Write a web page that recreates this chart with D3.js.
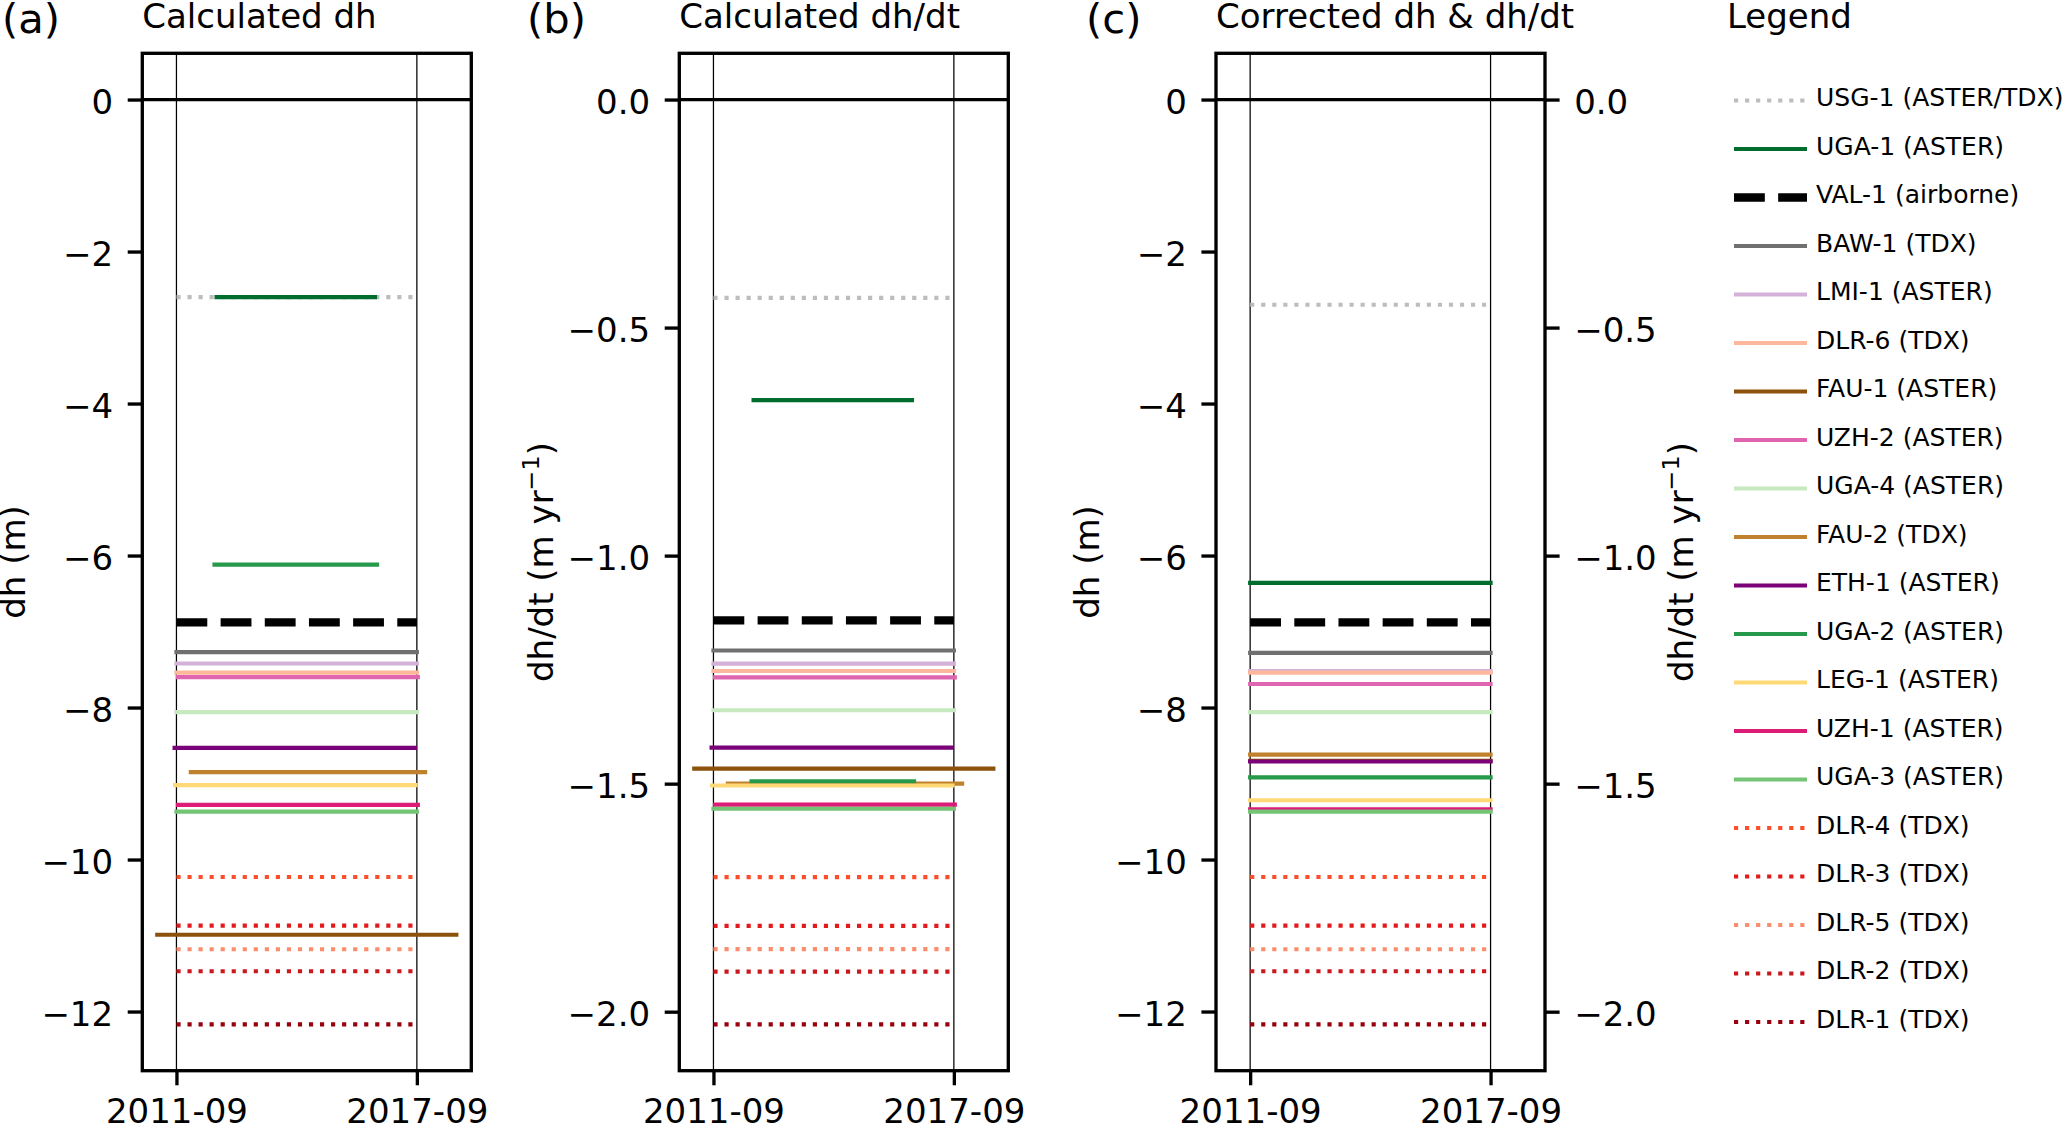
<!DOCTYPE html>
<html><head><meta charset="utf-8">
<script src="https://cdn.jsdelivr.net/npm/d3@7"></script>
<style>
body{margin:0;background:#fff;}
svg{display:block;}
text{font-family:"DejaVu Sans",sans-serif;fill:#000;}
</style>
</head><body>
<svg id="chart" width="2066" height="1127"></svg>
<script>
// ---------------- data ----------------
const labels = ["USG-1 (ASTER/TDX)","UGA-1 (ASTER)","VAL-1 (airborne)","BAW-1 (TDX)","LMI-1 (ASTER)",
  "DLR-6 (TDX)","FAU-1 (ASTER)","UZH-2 (ASTER)","UGA-4 (ASTER)","FAU-2 (TDX)","ETH-1 (ASTER)",
  "UGA-2 (ASTER)","LEG-1 (ASTER)","UZH-1 (ASTER)","UGA-3 (ASTER)","DLR-4 (TDX)","DLR-3 (TDX)",
  "DLR-5 (TDX)","DLR-2 (TDX)","DLR-1 (TDX)"];
const startDates = ["2011-09-01","2012-09-01","2011-09-01","2011-09-01","2011-09-01",
  "2011-09-01","2011-03-10","2011-09-15","2011-09-01","2012-01-10","2011-08-15",
  "2012-08-13","2011-08-20","2011-09-15","2011-09-01","2011-09-01","2011-09-01",
  "2011-09-01","2011-09-01","2011-09-01"];
const endDates = ["2017-09-01","2016-08-15","2017-09-01","2017-09-01","2017-09-01",
  "2017-09-01","2018-08-27","2017-09-10","2017-09-01","2017-11-15","2017-08-15",
  "2016-09-03","2017-08-20","2017-09-10","2017-09-01","2017-09-01","2017-09-01",
  "2017-09-01","2017-09-01","2017-09-01"];
const corrStart = "2011-09-01";
const corrEnd = "2017-09-01";
// (a) calculated dh (m)
const dhCalc = [-2.60,-2.60,-6.88,-7.27,-7.42,-7.54,-10.99,-7.60,-8.06,-8.85,-8.53,
  -6.12,-9.02,-9.28,-9.37,-10.23,-10.87,-11.18,-11.47,-12.17];
// (b) calculated dh/dt (m/yr)
const dhdtCalc = [-0.435,-0.659,-1.142,-1.208,-1.237,-1.253,-1.467,-1.267,-1.339,-1.500,-1.421,
  -1.495,-1.504,-1.546,-1.555,-1.705,-1.812,-1.863,-1.912,-2.028];
// (c) corrected dh (m)
const dhCorr = [-2.70,-6.36,-6.88,-7.28,-7.52,-7.54,-8.70,-7.69,-8.06,-8.62,-8.71,
  -8.92,-9.22,-9.34,-9.37,-10.23,-10.87,-11.18,-11.47,-12.17];
const xTickDates = ["2011-09-01","2017-09-01"];
const xTickLabels = ["2011-09","2017-09"];
const dhTicks = [0,-2,-4,-6,-8,-10,-12];
const dhdtTicks = [0,-0.5,-1.0,-1.5,-2.0];
const titles = ["Calculated dh","Calculated dh/dt","Corrected dh & dh/dt"];
const panelTags = ["(a)","(b)","(c)"];

// ---------------- styles ----------------
const colors = ["#bdbdbd","#006d2c","#000000","#707070","#d4b2d8","#fcb79c","#8c510a","#df65b0",
  "#c7e9c0","#bf812d","#7a0177","#27994a","#fed976","#dd1c77","#74c476","#fc4e2a","#e31a1c",
  "#fc8d6c","#cb181d","#99000d"];
const styles = ["dotted","solid","dashed","solid","solid","solid","solid","solid","solid","solid",
  "solid","solid","solid","solid","solid","dotted","dotted","dotted","dotted","dotted"];

const PT = 300/72;          // px per point (300 dpi)
const LW = 1*PT, LWD = 2*PT, SPINE = 0.8*PT, TICK = 3.5*PT, PAD = 3.5*PT;
const FS = 34, FSL = 25, FSTAG = 10*PT;

const parse = d3.timeParse("%Y-%m-%d");
const svg = d3.select("#chart");
svg.append("rect").attr("width",2066).attr("height",1127).attr("fill","#fff");

const panelLeft = [142.3, 679.3, 1216.0];
const panelW = 329, plotTop = 53.3, plotBottom = 1070.7;

// x domain: data extent with 5% margins
const t0 = d3.min(startDates.map(parse)), t1 = d3.max(endDates.map(parse));
const tpad = (t1 - t0) * 0.05;
const xDomain = [new Date(+t0 - tpad), new Date(+t1 + tpad)];
function padDomain(vals){
  const lo = d3.min([0, ...vals]), hi = d3.max([0, ...vals]);
  const p = (hi - lo) * 0.05;
  return [lo - p, hi + p];
}
const dhDomain = padDomain(dhCalc);
const dhdtDomain = padDomain(dhdtCalc);

function styleLine(sel, i){
  const st = styles[i];
  sel.attr("stroke", colors[i])
     .attr("stroke-width", st === "dashed" ? LWD : LW)
     .attr("stroke-linecap", st === "solid" ? "square" : "butt")
     .attr("fill","none");
  if (st === "dashed") sel.attr("stroke-dasharray", `${3.7*LWD},${1.6*LWD}`);
  if (st === "dotted") sel.attr("stroke-dasharray", `${1*LW},${1.65*LW}`);
}

function styleAxis(g){
  g.select(".domain").remove();
  g.selectAll(".tick line").attr("stroke","#000").attr("stroke-width",SPINE);
  g.selectAll(".tick text").attr("font-size",FS).attr("font-family","DejaVu Sans").attr("fill","#000");
}

function drawPanel(p, values, starts, ends, yDomain, tickVals, fmt, rightAxis){
  const L = panelLeft[p];
  const x = d3.scaleTime().domain(xDomain).range([L, L + panelW]);
  const y = d3.scaleLinear().domain(yDomain).range([plotBottom, plotTop]);
  const g = svg.append("g");

  xTickDates.forEach(d => {
    g.append("line").attr("x1", x(parse(d))).attr("x2", x(parse(d)))
      .attr("y1", plotTop).attr("y2", plotBottom).attr("stroke","#000").attr("stroke-width",0.3*PT);
  });
  g.append("line").attr("x1", L).attr("x2", L + panelW).attr("y1", y(0)).attr("y2", y(0))
    .attr("stroke","#000").attr("stroke-width",SPINE);

  values.forEach((v, i) => {
    const ln = g.append("line")
      .attr("x1", x(parse(starts[i]))).attr("x2", x(parse(ends[i])))
      .attr("y1", y(v)).attr("y2", y(v));
    styleLine(ln, i);
  });

  g.append("rect").attr("x", L).attr("y", plotTop).attr("width", panelW).attr("height", plotBottom - plotTop)
    .attr("fill","none").attr("stroke","#000").attr("stroke-width",SPINE);

  const ax = svg.append("g").attr("transform",`translate(${L},0)`)
    .call(d3.axisLeft(y).tickValues(tickVals).tickFormat(fmt)
      .tickSizeInner(TICK).tickSizeOuter(0).tickPadding(PAD));
  styleAxis(ax);
  ax.selectAll(".tick text").attr("dy","0.4em");

  const bx = svg.append("g").attr("transform",`translate(0,${plotBottom})`)
    .call(d3.axisBottom(x).tickValues(xTickDates.map(parse))
      .tickFormat((d, i) => xTickLabels[i])
      .tickSizeInner(TICK).tickSizeOuter(0).tickPadding(PAD));
  styleAxis(bx);
  bx.selectAll(".tick text").attr("dy","0.69em");

  if (rightAxis){
    const yR = d3.scaleLinear().domain(dhdtDomain).range([plotBottom, plotTop]);
    const rx = svg.append("g").attr("transform",`translate(${L + panelW},0)`)
      .call(d3.axisRight(yR).tickValues(dhdtTicks).tickFormat(d3.format(".1f"))
        .tickSizeInner(TICK).tickSizeOuter(0).tickPadding(PAD));
    styleAxis(rx);
    rx.selectAll(".tick text").attr("dy","0.4em");
  }

  svg.append("text").attr("x", L).attr("y", 28.3).attr("font-size", FS).text(titles[p]);
  return {x, y};
}

const fmtInt = d3.format("d");
const fmt1 = d3.format(".1f");
drawPanel(0, dhCalc, startDates, endDates, dhDomain, dhTicks, fmtInt, false);
drawPanel(1, dhdtCalc, startDates, endDates, dhdtDomain, dhdtTicks, fmt1, false);
drawPanel(2, dhCorr, labels.map(() => corrStart), labels.map(() => corrEnd), dhDomain, dhTicks, fmtInt, true);

const tagX = [2, 527, 1086];
panelTags.forEach((t, i) => {
  svg.append("text").attr("x", tagX[i]).attr("y", 33.3).attr("font-size", FSTAG).text(t);
});

const midY = (plotTop + plotBottom) / 2;
function ylabel(xb, withSup){
  const t = svg.append("text").attr("transform",`translate(${xb},${midY}) rotate(-90)`)
    .attr("text-anchor","middle").attr("font-size", FS);
  if (withSup){
    t.append("tspan").text("dh/dt (m yr");
    t.append("tspan").attr("font-size", FS*0.7).attr("dy", -FS*0.42).text("\u22121");
    t.append("tspan").attr("dy", FS*0.42).text(")");
  } else {
    t.text("dh (m)");
  }
}
ylabel(panelLeft[0] - 117, false);
ylabel(panelLeft[1] - 126, true);
ylabel(panelLeft[2] - 117, false);
ylabel(panelLeft[2] + panelW + 148, true);

svg.append("text").attr("x", 1727).attr("y", 28.3).attr("font-size", FS).text("Legend");
const legY0 = 100.5, legStep = 48.5;
labels.forEach((l, i) => {
  const yy = legY0 + i * legStep;
  const ln = svg.append("line").attr("x1", 1734).attr("x2", 1807).attr("y1", yy).attr("y2", yy);
  styleLine(ln, i);
  if (styles[i] === "solid") ln.attr("stroke-linecap","butt");
  svg.append("text").attr("x", 1816).attr("y", yy + 5.5)
    .attr("font-size", FSL).text(l);
});
</script>
</body></html>
